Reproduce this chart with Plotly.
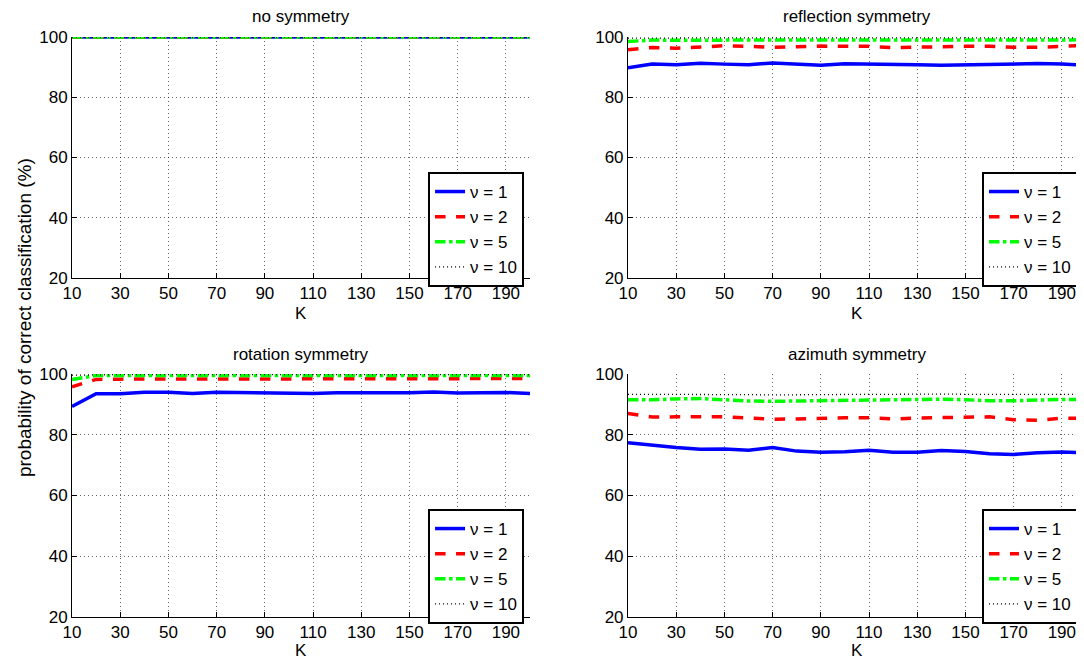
import plotly.graph_objects as go

K = [10, 20, 30, 40, 50, 60, 70, 80, 90, 100, 110, 120, 130, 140, 150, 160, 170, 180, 190, 200]

titles = ["no symmetry", "reflection symmetry", "rotation symmetry", "azimuth symmetry"]
legend_names = ["ν = 1", "ν = 2", "ν = 5", "ν = 10"]
x_ticks = [10, 30, 50, 70, 90, 110, 130, 150, 170, 190]
y_ticks = [20, 40, 60, 80, 100]

# no symmetry
none_nu1 = [100] * 20
none_nu2 = [100] * 20
none_nu5 = [100] * 20
none_nu10 = [100] * 20

# reflection symmetry
refl_nu1 = [89.8, 91.0, 90.8, 91.3, 91.0, 90.8, 91.4, 91.0, 90.6, 91.1, 91.0, 91.1, 90.8, 90.6, 90.8, 91.0, 91.0, 91.2, 91.0, 90.7]
refl_nu2 = [95.8, 96.5, 96.3, 96.8, 97.1, 96.9, 96.6, 96.8, 97.0, 96.9, 96.9, 96.5, 96.7, 96.8, 96.9, 96.9, 96.6, 96.6, 96.8, 97.2]
refl_nu5 = [98.5, 99.0, 98.9, 99.0, 99.1, 99.0, 99.0, 99.1, 99.0, 99.0, 99.1, 99.0, 99.0, 99.1, 99.0, 99.0, 99.1, 99.0, 99.0, 99.1]
refl_nu10 = [99.6, 99.7, 99.7, 99.7, 99.7, 99.7, 99.7, 99.7, 99.7, 99.7, 99.7, 99.7, 99.7, 99.7, 99.7, 99.7, 99.7, 99.7, 99.7, 99.7]

# rotation symmetry
rot_nu1 = [89.3, 93.5, 93.5, 94.0, 94.0, 93.6, 94.0, 93.9, 93.8, 93.9, 93.6, 93.8, 93.8, 93.8, 93.8, 94.1, 93.7, 93.8, 93.9, 93.6]
rot_nu2 = [95.8, 98.2, 98.3, 98.3, 98.5, 98.4, 98.4, 98.4, 98.5, 98.4, 98.5, 98.4, 98.5, 98.4, 98.5, 98.5, 98.4, 98.5, 98.4, 98.5]
rot_nu5 = [98.2, 99.5, 99.5, 99.5, 99.5, 99.5, 99.5, 99.5, 99.5, 99.5, 99.5, 99.5, 99.5, 99.5, 99.5, 99.5, 99.5, 99.5, 99.5, 99.5]
rot_nu10 = [99.6, 99.8, 99.8, 99.8, 99.8, 99.8, 99.8, 99.8, 99.8, 99.8, 99.8, 99.8, 99.8, 99.8, 99.8, 99.8, 99.8, 99.8, 99.8, 99.8]

# azimuth symmetry
azi_nu1 = [77.4, 76.5, 75.8, 75.2, 75.3, 74.9, 75.8, 74.6, 74.2, 74.4, 74.9, 74.2, 74.2, 74.8, 74.5, 73.7, 73.5, 74.1, 74.3, 74.0]
azi_nu2 = [87.0, 85.8, 85.9, 86.0, 85.9, 85.5, 85.1, 85.2, 85.5, 85.6, 85.6, 85.2, 85.5, 85.6, 85.6, 85.9, 84.9, 84.8, 85.4, 85.4]
azi_nu5 = [91.5, 91.5, 91.8, 91.9, 91.5, 91.1, 91.0, 91.1, 91.3, 91.4, 91.5, 91.5, 91.7, 91.7, 91.5, 91.2, 91.2, 91.5, 91.6, 91.6]
azi_nu10 = [93.3, 93.3, 93.4, 93.4, 93.3, 93.2, 93.1, 93.2, 93.2, 93.3, 93.3, 93.3, 93.4, 93.4, 93.3, 93.2, 93.3, 93.3, 93.4, 93.3]

panels = [
    [none_nu1, none_nu2, none_nu5, none_nu10],
    [refl_nu1, refl_nu2, refl_nu5, refl_nu10],
    [rot_nu1, rot_nu2, rot_nu5, rot_nu10],
    [azi_nu1, azi_nu2, azi_nu5, azi_nu10],
]

styles = [
    dict(color="#0000ff", width=3.5, dash="solid"),
    dict(color="#ff0000", width=3.5, dash="dash"),
    dict(color="#00ff00", width=3.5, dash="dashdot"),
    dict(color="#000000", width=1.3, dash="1px,3px"),
]

FONT = "Liberation Sans, Arial, sans-serif"

# figure is offset 8px by the page body margin, so it is sized 1076x652
xdomains = [[0.0595, 0.4851], [0.5762, 1.0], [0.0595, 0.4851], [0.5762, 1.0]]
xranges = [[10, 200], [10, 199.2], [10, 200], [10, 199.2]]
ydomains = [[0.5859, 0.9555], [0.5859, 0.9555], [0.0660, 0.4387], [0.0660, 0.4387]]
legend_pos = [(0.4796, 0.7485), (0.9944, 0.7485), (0.4796, 0.2316), (0.9944, 0.2316)]
title_pos = [(0.2723, 0.9877), (0.789, 0.9877), (0.2723, 0.4693), (0.789, 0.4693)]
klabel_pos = [(0.2723, 0.5322), (0.789, 0.5322), (0.2723, 0.0153), (0.789, 0.0153)]

fig = go.Figure()
layout = dict(
    width=1076, height=652,
    margin=dict(l=0, r=0, t=0, b=0, autoexpand=False),
    paper_bgcolor="white", plot_bgcolor="white",
    font=dict(family=FONT, size=15, color="black"),
    showlegend=True,
)

annotations = []
for i, series in enumerate(panels):
    n = "" if i == 0 else str(i + 1)
    leg = "legend" if i == 0 else "legend" + str(i + 1)
    for j, ys in enumerate(series):
        fig.add_trace(go.Scatter(
            x=K, y=ys, mode="lines", name=legend_names[j],
            line=styles[j], xaxis="x" + n, yaxis="y" + n, legend=leg,
            cliponaxis=False,
        ))
    axcommon = dict(
        showline=True, linecolor="black", linewidth=1, mirror=False,
        ticks="inside", ticklen=5, tickcolor="black", automargin=False,
        showgrid=True, gridcolor="rgba(0,0,0,0.6)", griddash="1px,3px", gridwidth=1,
        zeroline=False, tickfont=dict(family=FONT, size=17, color="black"),
    )
    layout["xaxis" + n] = dict(
        axcommon, domain=xdomains[i], range=xranges[i], tickvals=x_ticks,
        anchor="y" + n, ticklabelstandoff=0,
    )
    layout["yaxis" + n] = dict(
        axcommon, domain=ydomains[i], range=[20, 100], tickvals=y_ticks,
        anchor="x" + n,
    )
    layout[leg] = dict(
        x=legend_pos[i][0], y=legend_pos[i][1], xanchor="right", yanchor="top",
        xref="paper", yref="paper",
        bgcolor="white", bordercolor="black", borderwidth=2,
        font=dict(family=FONT, size=17, color="black"),
        tracegroupgap=0,
    )
    annotations.append(dict(
        text=titles[i], xref="paper", yref="paper",
        x=title_pos[i][0], y=title_pos[i][1], xanchor="center", yanchor="middle",
        showarrow=False, font=dict(family=FONT, size=17, color="black"),
    ))
    annotations.append(dict(
        text="K", xref="paper", yref="paper",
        x=klabel_pos[i][0], y=klabel_pos[i][1], xanchor="center", yanchor="middle",
        showarrow=False, font=dict(family=FONT, size=17, color="black"),
    ))

annotations.append(dict(
    text="probability of correct classification (%)", xref="paper", yref="paper",
    x=0.0149, y=0.5245, xanchor="center", yanchor="middle", textangle=-90,
    showarrow=False, font=dict(family=FONT, size=19, color="black"),
))
layout["annotations"] = annotations
fig.update_layout(**layout)
fig.write_html("out.html")
